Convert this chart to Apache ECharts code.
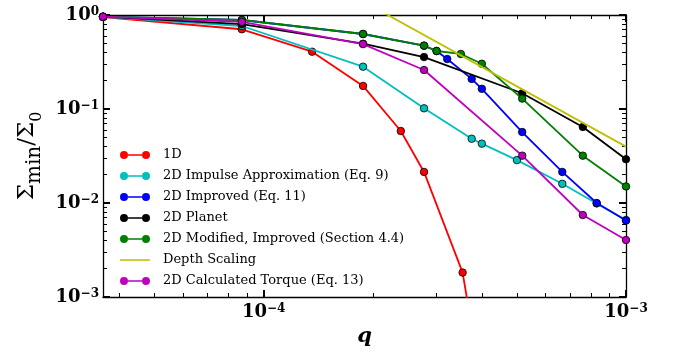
<!DOCTYPE html>
<html>
<head>
<meta charset="utf-8">
<script src="https://cdn.jsdelivr.net/npm/echarts@6/dist/echarts.min.js"></script>
<style>html,body{margin:0;padding:0;background:#fff;}#c{width:675px;height:353px;}</style>
</head>
<body>
<div id="c"></div>
<script>
// ---- data ----
const seriesNames = ['1D', '2D Impulse Approximation (Eq. 9)', '2D Improved (Eq. 11)', '2D Planet',
  '2D Modified, Improved (Section 4.4)', 'Depth Scaling', '2D Calculated Torque (Eq. 13)'];

const q1D   = [3.6e-5, 8.7e-5, 1.36e-4, 1.88e-4, 2.39e-4, 2.77e-4, 3.54e-4, 4.0e-4];
const s1D   = [0.95, 0.705, 0.407, 0.176, 0.0583, 0.0214, 0.00182, 0.00011];

const qImp  = [3.6e-5, 8.7e-5, 1.88e-4, 2.77e-4, 3.75e-4, 4.0e-4, 5.0e-4, 6.67e-4, 8.3e-4, 1.0e-3];
const sImp  = [0.955, 0.764, 0.282, 0.1017, 0.0483, 0.0428, 0.0286, 0.016, 0.0099, 0.0066];

const qImpr = [3.6e-5, 8.7e-5, 1.88e-4, 2.77e-4, 3.0e-4, 3.21e-4, 3.75e-4, 4.0e-4, 5.17e-4, 6.67e-4, 8.3e-4, 1.0e-3];
const sImpr = [0.96, 0.885, 0.628, 0.472, 0.414, 0.34, 0.209, 0.164, 0.0569, 0.0214, 0.0100, 0.0065];

const qPl   = [3.6e-5, 8.7e-5, 1.88e-4, 2.77e-4, 5.17e-4, 7.6e-4, 1.0e-3];
const sPl   = [0.96, 0.80, 0.495, 0.357, 0.147, 0.0644, 0.0292];

const qMod  = [3.6e-5, 8.7e-5, 1.88e-4, 2.77e-4, 3.0e-4, 3.5e-4, 4.0e-4, 5.17e-4, 7.6e-4, 1.0e-3];
const sMod  = [0.96, 0.885, 0.628, 0.472, 0.414, 0.385, 0.303, 0.129, 0.0319, 0.0150];

const qDepth = [2.0e-4, 1.0e-3];
const sDepth = [1.225, 0.0398];

const qTor  = [3.6e-5, 8.7e-5, 1.88e-4, 2.77e-4, 5.17e-4, 7.6e-4, 1.0e-3];
const sTor  = [0.96, 0.845, 0.49, 0.26, 0.0319, 0.00745, 0.00404];

const xMajorTicks = [1e-4, 1e-3];
const xMinorTicks = [4e-5, 5e-5, 6e-5, 7e-5, 8e-5, 9e-5, 2e-4, 3e-4, 4e-4, 5e-4, 6e-4, 7e-4, 8e-4, 9e-4];
const yMajorTicks = [1e-3, 1e-2, 1e-1, 1];
const yMinorTicks = [2e-3, 3e-3, 4e-3, 5e-3, 6e-3, 7e-3, 8e-3, 9e-3,
  2e-2, 3e-2, 4e-2, 5e-2, 6e-2, 7e-2, 8e-2, 9e-2,
  2e-1, 3e-1, 4e-1, 5e-1, 6e-1, 7e-1, 8e-1, 9e-1];

const xMin = 3.6e-5, xMax = 1e-3, yMin = 1e-3, yMax = 1;

// ---- styling ----
const colors = ['#ff0000', '#00bfbf', '#0000ff', '#000000', '#008000', '#bfbf00', '#bf00bf'];
const serif = '"DejaVu Serif", "Liberation Serif", serif';

function pow10Label(v) {
  const e = Math.round(Math.log10(v));
  return '{b|10}{s|' + (e === 0 ? '0' : '\u2212' + (-e)) + '}';
}
const labelRich = {
  b: { fontFamily: serif, fontSize: 18, fontWeight: 'bold', color: '#000' },
  s: { fontFamily: serif, fontSize: 12, fontWeight: 'bold', color: '#000', verticalAlign: 'top' }
};

function xAx(pos, major, showLine, showLabel) {
  return {
    type: 'log', logBase: 10, min: xMin, max: xMax, position: pos, gridIndex: 0,
    axisLine: { show: showLine, onZero: false, lineStyle: { color: '#000', width: 1.3 } },
    axisTick: { show: true, inside: true, customValues: major ? xMajorTicks : xMinorTicks,
      length: major ? 7 : 4, lineStyle: { color: '#000', width: major ? 2 : 1 } },
    axisLabel: { show: showLabel, customValues: xMajorTicks, formatter: pow10Label, rich: labelRich, margin: 6 },
    splitLine: { show: false }, minorTick: { show: false }
  };
}
function yAx(pos, major, showLine, showLabel) {
  return {
    type: 'log', logBase: 10, min: yMin, max: yMax, position: pos, gridIndex: 0,
    axisLine: { show: showLine, onZero: false, lineStyle: { color: '#000', width: 1.3 } },
    axisTick: { show: true, inside: true, customValues: major ? yMajorTicks : yMinorTicks,
      length: major ? 7 : 4, lineStyle: { color: '#000', width: major ? 2 : 1 } },
    axisLabel: { show: showLabel, customValues: yMajorTicks, formatter: pow10Label, rich: labelRich, margin: 4 },
    splitLine: { show: false }, minorTick: { show: false }
  };
}

const xAxes = [xAx('bottom', true, true, true), xAx('bottom', false, false, false),
  xAx('top', true, true, false), xAx('top', false, false, false)];
xAxes[0].name = 'q';
xAxes[0].nameLocation = 'middle';
xAxes[0].nameGap = 28;
xAxes[0].nameTextStyle = { fontFamily: serif, fontSize: 21, fontWeight: 'bold', fontStyle: 'italic', color: '#000' };

const yAxes = [yAx('left', true, true, true), yAx('left', false, false, false),
  yAx('right', true, true, false), yAx('right', false, false, false)];
yAxes[0].name = '{a|\u03A3}{m|min}{a|/\u03A3}{z|0}';
yAxes[0].nameLocation = 'middle';
yAxes[0].nameGap = 60;
yAxes[0].nameRotate = 90;
yAxes[0].nameTextStyle = {
  rich: {
    a: { fontFamily: serif, fontSize: 23, color: '#000' },
    m: { fontFamily: serif, fontSize: 20, color: '#000', verticalAlign: 'bottom', padding: [0, 0, -6, 0] },
    z: { fontFamily: serif, fontSize: 16, color: '#000', verticalAlign: 'bottom', padding: [0, 0, -6, 0] }
  }
};

const qs = [q1D, qImp, qImpr, qPl, qMod, qDepth, qTor];
const ss = [s1D, sImp, sImpr, sPl, sMod, sDepth, sTor];

const series = seriesNames.map(function (name, i) {
  const isDepth = (i === 5);
  return {
    name: name, type: 'line', xAxisIndex: 0, yAxisIndex: 0,
    data: qs[i].map(function (q, k) { return [q, ss[i][k]]; }),
    clip: true,
    showSymbol: !isDepth, symbol: isDepth ? 'none' : 'circle', symbolSize: 7.5,
    lineStyle: { color: colors[i], width: 1.8 },
    itemStyle: { color: colors[i], borderColor: '#000', borderWidth: 0.8 },
    emphasis: { disabled: true }, animation: false, z: 2 + i
  };
});

const dotsIcon = 'path://M0,4A4,4 0 1,0 8,4A4,4 0 1,0 0,4Z M8,3.3L22,3.3L22,4.7L8,4.7Z M22,4A4,4 0 1,0 30,4A4,4 0 1,0 22,4Z';
const lineIcon = 'path://M0,0L0,0Z M0,3.3L30,3.3L30,4.7L0,4.7Z M30,8L30,8Z';

const option = {
  animation: false,
  backgroundColor: '#fff',
  grid: { left: 103, right: 49, top: 15, bottom: 56, containLabel: false },
  xAxis: xAxes,
  yAxis: yAxes,
  legend: {
    orient: 'vertical', left: 115, top: 143,
    itemWidth: 30, itemHeight: 8, itemGap: 7,
    data: seriesNames.map(function (n, i) { return { name: n, icon: i === 5 ? lineIcon : dotsIcon }; }),
    itemStyle: { borderWidth: 0 },
    textStyle: { fontFamily: serif, fontSize: 13, color: '#000', lineHeight: 14, padding: [0, 0, 0, 8] },
    selectedMode: false
  },
  series: series
};

const chart = echarts.init(document.getElementById('c'), null, { renderer: 'canvas' });
chart.setOption(option);
</script>
</body>
</html>
